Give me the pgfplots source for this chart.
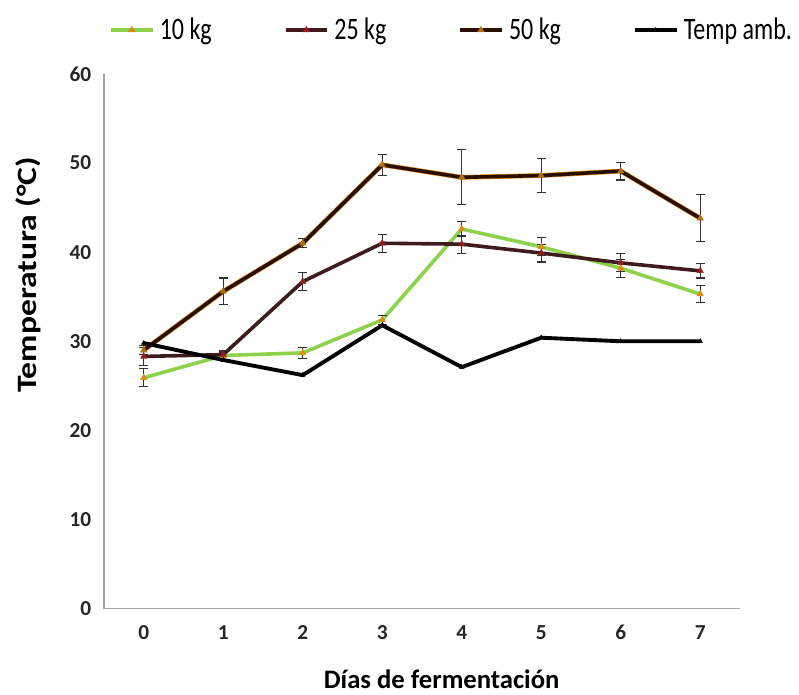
\documentclass[border=0pt]{standalone}
\usepackage{pgfplots}
\pgfplotsset{compat=1.18}
\usepackage{graphicx}
\usepackage{fontspec}
\setmainfont{Carlito}
\definecolor{cgreen}{HTML}{8CD24A}
\definecolor{cmaroon}{HTML}{3E1C1E}
\definecolor{cbrown}{HTML}{2A0E00}
\definecolor{corange}{HTML}{E08A10}
\definecolor{cred}{HTML}{9B1B1B}
\begin{document}
\begin{tikzpicture}
\begin{axis}[
  scale only axis,
  width=477pt, height=401pt,
  xmin=-0.5, xmax=7.5, ymin=0, ymax=60,
  xtick={0,...,7}, ytick={0,10,...,60},
  axis lines=left,
  axis line style={gray!70, -, line width=0.8pt},
  tick style={gray!70},
  major tick length=0pt,
  /pgf/number format/assume math mode=true,
  ticklabel style={font=\fontsize{16}{18}\selectfont\bfseries, text=black!85},
  yticklabel style={xshift=-6pt},
  xticklabel style={yshift=-9pt},
  xlabel={Días de fermentación},
  ylabel={\scalebox{1.2}[1]{Temperatura (°C)}},
  xlabel style={font=\fontsize{20}{24}\selectfont\bfseries, at={(axis description cs:0.531,-0.132)}, anchor=center},
  ylabel style={font=\fontsize{21}{24}\selectfont\bfseries, at={(axis description cs:-0.1195,0.624)}, anchor=center, rotate=0},
  legend columns=4,
  legend style={draw=none, at={(axis description cs:0.547,1.082)}, anchor=center,
    font=\fontsize{18}{20}\selectfont, inner sep=0pt,
    /tikz/every odd column/.append style={column sep=2pt},
    /tikz/every even column/.append style={column sep=52pt}},
  legend image code/.code={\draw[mark repeat=2,mark phase=2,#1] plot coordinates {(0cm,0cm) (0.55cm,0cm) (1.1cm,0cm)};},
  every axis plot/.append style={line width=2.7pt},
  error bars/error bar style={black!80, line width=0.8pt},
  error bars/error mark options={rotate=90, black!80, mark size=3.5pt, line width=0.8pt},
]
\coordinate (bbsw) at (axis description cs:-0.1635,-0.1607);
\coordinate (bbne) at (axis description cs:1.0928,1.1383);
% 10 kg
\addplot[color=cgreen, mark=triangle*, mark size=2.8pt, mark options={fill=corange, draw=corange, line width=0.3pt},
  error bars/.cd, y dir=both, y explicit]
  coordinates {(0,25.9)+-(0,1.0) (1,28.4)+-(0,0.4) (2,28.7)+-(0,0.6) (3,32.4)+-(0,0.5)
               (4,42.6)+-(0,0.8) (5,40.6)+-(0,1.0) (6,38.2)+-(0,1.0) (7,35.3)+-(0,1.0)};
\addlegendentry{\scalebox{1}[1.3]{10 kg}}
% 25 kg
\addplot[color=cmaroon, mark=triangle*, mark size=2.8pt, mark options={fill=cred, draw=cred, line width=0.3pt},
  error bars/.cd, y dir=both, y explicit]
  coordinates {(0,28.3)+-(0,1.0) (1,28.5)+-(0,0.5) (2,36.7)+-(0,1.0) (3,41.0)+-(0,1.0)
               (4,40.9)+-(0,1.0) (5,39.9)+-(0,1.0) (6,38.8)+-(0,1.0) (7,37.9)+-(0,0.8)};
\addlegendentry{\scalebox{1}[1.3]{25 kg}}
% 50 kg (orange halo)
\addplot[color=corange, line width=3.6pt, forget plot]
  coordinates {(0,29.0) (1,35.6) (2,41.0) (3,49.8) (4,48.4) (5,48.6) (6,49.1) (7,43.8)};
\addplot[color=cbrown, mark=triangle*, mark size=2.8pt, mark options={fill=corange!80!black, draw=corange!80!black, line width=0.3pt},
  error bars/.cd, y dir=both, y explicit]
  coordinates {(0,29.0)+-(0,0.5) (1,35.6)+-(0,1.5) (2,41.0)+-(0,0.5) (3,49.8)+-(0,1.2)
               (4,48.4)+-(0,3.1) (5,48.6)+-(0,1.9) (6,49.1)+-(0,1.0) (7,43.8)+-(0,2.65)};
\addlegendentry{\scalebox{1}[1.3]{50 kg}}
% Temp amb
\addplot[color=black, line width=2.9pt, mark=triangle*, mark size=2pt, mark options={fill=black, line width=0.3pt}]
  coordinates {(0,29.8) (1,27.9) (2,26.2) (3,31.8) (4,27.1) (5,30.4) (6,30.0) (7,30.0)};
\addlegendentry{\scalebox{1}[1.3]{Temp amb.}}
\end{axis}
\pgfresetboundingbox
\path[use as bounding box] (bbsw) rectangle (bbne);
\end{tikzpicture}
\end{document}
